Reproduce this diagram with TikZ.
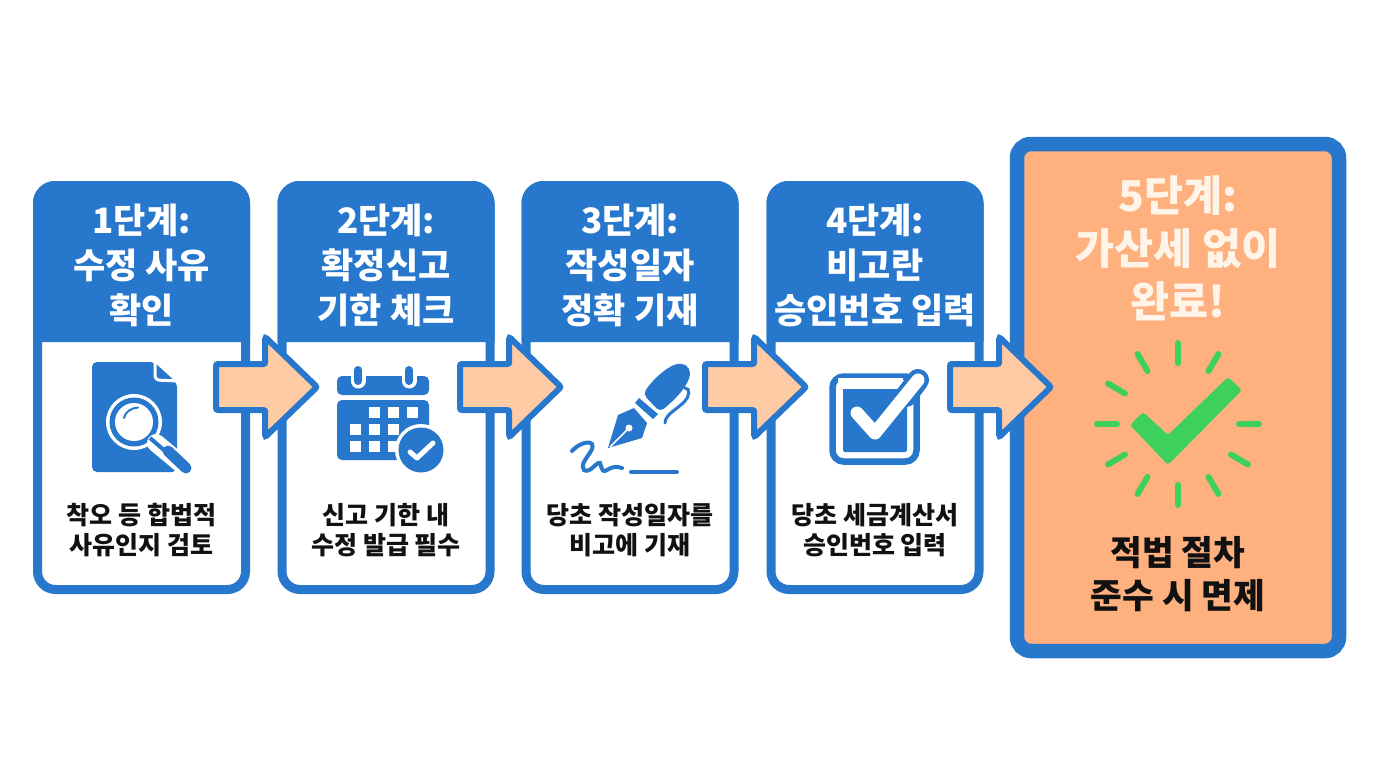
\documentclass[tikz,border=0pt]{standalone}
\usepackage{fontspec}
\setmainfont{Noto Sans CJK KR}
\usetikzlibrary{shapes.arrows}
\definecolor{cardblue}{HTML}{2777CC}
\definecolor{arrowfill}{HTML}{FFCBA4}
\definecolor{donefill}{HTML}{FFB07F}
\definecolor{donetext}{HTML}{FFF4E8}
\definecolor{donegreen}{HTML}{3DD05C}
\definecolor{bodyink}{HTML}{111111}
\tikzset{
    cardbox/.style={draw=cardblue, fill=white, line width=9pt, rounded corners=18pt, inner sep=0pt, minimum width=208pt, minimum height=404pt},
    donebox/.style={draw=cardblue, fill=donefill, line width=14.5pt, rounded corners=14pt, inner sep=0pt, minimum width=322pt, minimum height=507pt},
    headtext/.style={text=white, align=center, font=\fontsize{35}{45}\selectfont\bfseries},
    bodytext/.style={text=bodyink, align=center, font=\fontsize{25}{30}\selectfont\bfseries},
    donehead/.style={text=donetext, align=center, font=\fontsize{42.5}{53}\selectfont\bfseries},
    donebody/.style={text=bodyink, align=center, font=\fontsize{34.5}{43}\selectfont\bfseries},
    flowarrow/.style={single arrow, draw=cardblue, fill=arrowfill, line width=6pt, inner xsep=0pt, inner ysep=20pt, outer sep=0pt, rounded corners=2pt, minimum width=94pt, minimum height=101pt, single arrow head extend=27pt, single arrow tip angle=88, anchor=tail},
    tick/.style={donegreen, line width=6pt, line cap=round},
}
\begin{document}
\begin{tikzpicture}[x=1pt, y=-1pt]
    \useasboundingbox (0,0) rectangle (1376,768);
    % step cards
    \node[cardbox] (card1) at (141.5,387.5) {};
    \node[cardbox] (card2) at (386,387.5) {};
    \node[cardbox] (card3) at (630,387.5) {};
    \node[cardbox] (card4) at (875,387.5) {};
    \node[donebox] (card5) at (1178,397.5) {};
    \fill[cardblue] (33,342) [rounded corners=22pt] -- (33,181) -- (250,181) [sharp corners] -- (250,342) -- cycle;
    \fill[cardblue] (277.5,342) [rounded corners=22pt] -- (277.5,181) -- (494.5,181) [sharp corners] -- (494.5,342) -- cycle;
    \fill[cardblue] (521.5,342) [rounded corners=22pt] -- (521.5,181) -- (738.5,181) [sharp corners] -- (738.5,342) -- cycle;
    \fill[cardblue] (766.5,342) [rounded corners=22pt] -- (766.5,181) -- (983.5,181) [sharp corners] -- (983.5,342) -- cycle;
    % titles
    \node[headtext] (title1) at (141.5,265) {1단계:\\수정 사유\\확인};
    \node[headtext] (title2) at (386,265) {2단계:\\확정신고\\기한 체크};
    \node[headtext] (title3) at (630,265) {3단계:\\작성일자\\정확 기재};
    \node[headtext] (title4) at (875,265) {4단계:\\비고란\\승인번호 입력};
    \node[donehead] (title5) at (1178,248) {5단계:\\가산세 없이\\완료!};
    % notes
    \node[bodytext] (note1) at (141.5,530) {착오 등 합법적\\사유인지 검토};
    \node[bodytext] (note2) at (386,530) {신고 기한 내\\수정 발급 필수};
    \node[bodytext] (note3) at (630,530) {당초 작성일자를\\비고에 기재};
    \node[bodytext] (note4) at (875,530) {당초 세금계산서\\승인번호 입력};
    \node[donebody] (note5) at (1178,574) {적법 절차\\준수 시 면제};
    % document with magnifier
    \fill[cardblue, rounded corners=5pt] (92,362) -- (154,362) -- (177,383) -- (177,472) -- (92,472) -- cycle;
    \draw[white, line width=3pt, rounded corners=4pt] (155,360) -- (155,380) -- (179,381);
    \fill[white] (134,422) circle (28pt);
    \fill[cardblue] (134,422) circle (24.5pt);
    \fill[white] (134,422) circle (19pt);
    \draw[cardblue, line width=2pt, line cap=round] (124,418) .. controls (125,412) and (131,408) .. (138,407.5);
    \draw[white, line width=18pt, line cap=round] (156,443) -- (186,468);
    \draw[cardblue, line width=4pt] (150,438) -- (165,451);
    \draw[cardblue, line width=11pt, line cap=round] (168,451) -- (186,468);
    % calendar
    \fill[cardblue, rounded corners=5pt] (337,395) -- (337,376) -- (429,376) -- (429,395) -- cycle;
    \fill[cardblue, rounded corners=5pt] (337,400) -- (337,460) -- (429,460) -- (429,400) -- cycle;
    \draw[white, line width=15pt, line cap=round] (358,372) -- (358,381);
    \draw[white, line width=15pt, line cap=round] (409,372) -- (409,381);
    \draw[cardblue, line width=8pt, line cap=round] (358,370) -- (358,381);
    \draw[cardblue, line width=8pt, line cap=round] (409,370) -- (409,381);
    \fill[white] (368.5,406.5) rectangle (379.5,417.5);
    \fill[white] (387.5,406.5) rectangle (398.5,417.5);
    \fill[white] (406.5,406.5) rectangle (417.5,417.5);
    \fill[white] (349.5,423.5) rectangle (360.5,434.5);
    \fill[white] (368.5,423.5) rectangle (379.5,434.5);
    \fill[white] (387.5,423.5) rectangle (398.5,434.5);
    \fill[white] (349.5,440.5) rectangle (360.5,451.5);
    \fill[white] (368.5,440.5) rectangle (379.5,451.5);
    \fill[white] (387.5,440.5) rectangle (398.5,451.5);
    \fill[white] (421,450) circle (26pt);
    \fill[cardblue] (421,450) circle (22.5pt);
    \draw[white, line width=5pt, line cap=round, line join=round] (410,452) -- (417,458) -- (433,443);
    % fountain pen and signature
    \fill[cardblue, rounded corners=5pt] (643,394) .. controls (654,378) and (668,366) .. (682,363) -- (690,368) .. controls (690,380) and (684,392) .. (660,412) -- cycle;
    \fill[cardblue] (639,398) -- (635,403) -- (653,419) -- (658,414) -- cycle;
    \fill[cardblue] (618,415) -- (634,408) -- (647,423) -- (642,438) -- (608,448) -- cycle;
    \draw[white, line width=1.5pt] (629,428) -- (610,447);
    \fill[white] (629,428) circle (3.5pt);
    \draw[cardblue, line width=3pt, line cap=round] (685,388) .. controls (691,388) and (689,397) .. (685,401) .. controls (678,409) and (665,414) .. (665,423);
    \draw[cardblue, line width=4pt, line cap=round] (572,451) .. controls (577,445) and (588,440) .. (592,444) .. controls (596,451) and (578,462) .. (584,470) .. controls (590,474) and (597,461) .. (600,463) .. controls (601,466) and (602,472) .. (605,471) .. controls (610,469) and (612,465) .. (622,468);
    \draw[cardblue, line width=4pt, line cap=round] (631,472) -- (677,472);
    % checkbox
    \draw[cardblue, line width=6.5pt, rounded corners=11pt] (832.5,376.5) rectangle (916.5,461.5);
    \fill[cardblue, rounded corners=2pt] (843,387) rectangle (907,452);
    \draw[white, line width=11pt] (838,383) -- (903,383);
    \draw[cardblue, line width=22pt, line cap=round] (906,396) -- (918,380);
    \draw[white, line width=13pt, line cap=round, line join=round] (857,413) -- (875,433) -- (918,380);
    % green check with rays
    \fill[donegreen, rounded corners=3pt] (1130,425) -- (1143,412) -- (1168,435) -- (1228,377) -- (1242,390) -- (1168,465) -- cycle;
    \draw[tick] (1178,363) -- (1178,343);
    \draw[tick] (1178,485) -- (1178,505);
    \draw[tick] (1117,424) -- (1097,424);
    \draw[tick] (1239,424) -- (1259,424);
    \draw[tick] (1231,454.5) -- (1248,464.5);
    \draw[tick] (1125,393.5) -- (1108,383.5);
    \draw[tick] (1125,454.5) -- (1108,464.5);
    \draw[tick] (1208.5,371) -- (1218.5,354);
    \draw[tick] (1208.5,477) -- (1218.5,494);
    \draw[tick] (1147.5,371) -- (1137.5,354);
    \draw[tick] (1147.5,477) -- (1137.5,494);
    % arrows between the cards
    \node[flowarrow] (arrow1) at (216,387) {};
    \node[flowarrow] (arrow2) at (460,387) {};
    \node[flowarrow] (arrow3) at (705,387) {};
    \node[flowarrow] (arrow4) at (950,387) {};
\end{tikzpicture}
\end{document}
